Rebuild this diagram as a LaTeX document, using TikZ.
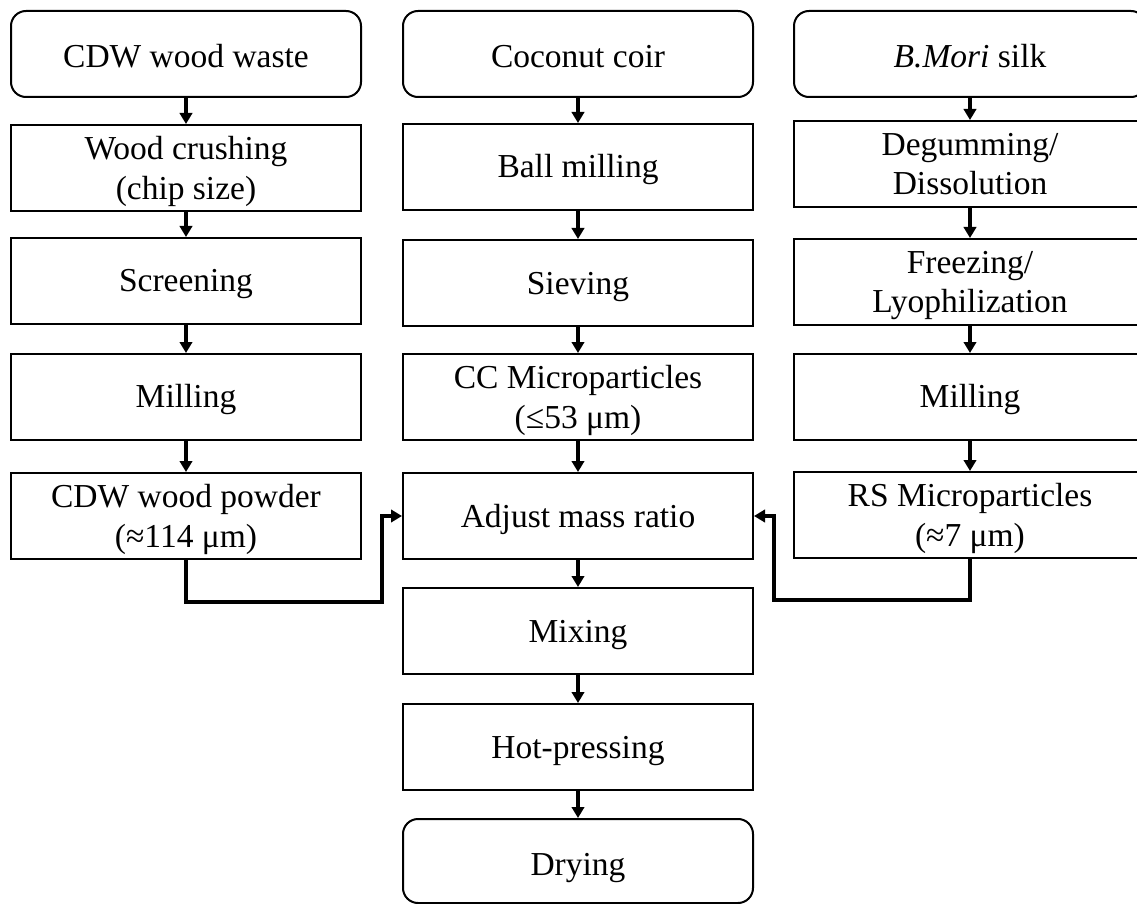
\documentclass[tikz,border=0pt]{standalone}
\usepackage{fontspec}
\setmainfont{Liberation Serif}
\usetikzlibrary{arrows.meta}
\begin{document}
\begin{tikzpicture}[x=0.5pt,y=-0.5pt,
  box/.style={draw, line width=1pt, minimum width=175pt, minimum height=43pt, inner sep=0pt,
    align=center, text height=11pt, text depth=0pt, font=\fontsize{16.75}{20}\selectfont},
  boxtwo/.style={box, text height=31pt},
  rbox/.style={box, rounded corners=7.5pt, text height=14pt},
  arr/.style={line width=1.6pt, -{Triangle[length=5.5pt,width=6.2pt]}}]
\clip (0,0) rectangle (1137,904);
% left column
\node[rbox]   (l1) at (186,54)  {CDW wood waste};
\node[boxtwo] (l2) at (186,168) {Wood crushing\\(chip size)};
\node[box]    (l3) at (186,281) {Screening};
\node[box]    (l4) at (186,397) {Milling};
\node[boxtwo] (l5) at (186,516) {CDW wood powder\\(≈114 μm)};
% center column
\node[rbox]   (c1) at (578,54)  {Coconut coir};
\node[box]    (c2) at (578,167) {Ball milling};
\node[box]    (c3) at (578,283) {Sieving};
\node[boxtwo] (c4) at (578,397) {CC Microparticles\\(≤53 μm)};
\node[box]    (c5) at (578,516) {Adjust mass ratio};
\node[box]    (c6) at (578,631) {Mixing};
\node[box]    (c7) at (578,747) {Hot-pressing};
\node[rbox, minimum height=42pt] (c8) at (578,861) {Drying};
% right column
\node[rbox, minimum width=176pt]   (r1) at (970,54)  {\textit{B.Mori} silk};
\node[boxtwo, minimum width=176pt] (r2) at (970,164) {Degumming/\\Dissolution};
\node[boxtwo, minimum width=176pt] (r3) at (970,282) {Freezing/\\Lyophilization};
\node[box, minimum width=176pt]    (r4) at (970,397) {Milling};
\node[boxtwo, minimum width=176pt] (r5) at (970,515) {RS Microparticles\\(≈7 μm)};
% vertical arrows
\foreach \a/\b in {l1/l2,l2/l3,l3/l4,l4/l5,c1/c2,c2/c3,c3/c4,c4/c5,c5/c6,c6/c7,c7/c8,r1/r2,r2/r3,r3/r4,r4/r5}
  \draw[arr] (\a.south) -- (\b.north);
% joining connectors
\coordinate (jl) at (382,602);
\coordinate (jr) at (774,600);
\draw[arr] (l5.south) |- (jl) |- (c5.west);
\draw[arr] (r5.south) |- (jr) |- (c5.east);
\end{tikzpicture}
\end{document}
